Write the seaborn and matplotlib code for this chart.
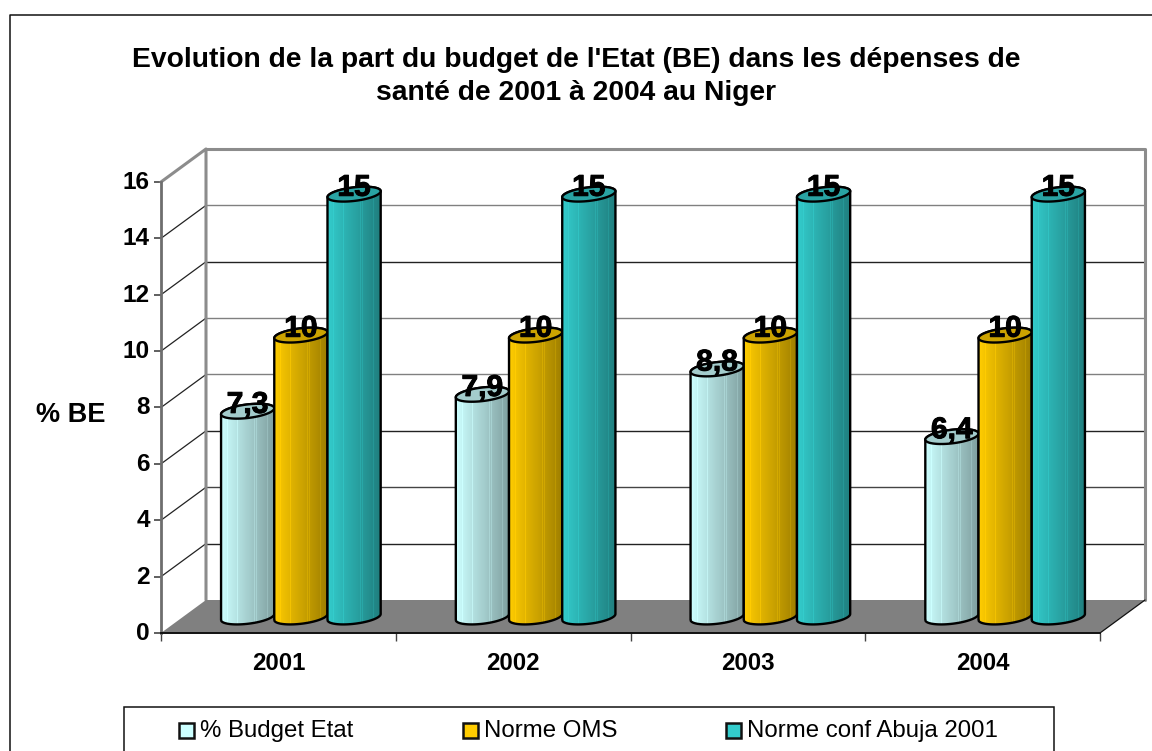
import numpy as np
import pandas as pd
import seaborn as sns
import matplotlib.pyplot as plt
import matplotlib.patheffects as pe
from matplotlib.colors import to_rgb
from matplotlib.lines import Line2D
from matplotlib.patches import PathPatch, Polygon, Rectangle
from matplotlib.path import Path
from matplotlib.transforms import ScaledTranslation

# values
years = ['2001', '2002', '2003', '2004']
series_names = ['% Budget Etat', 'Norme OMS', 'Norme conf Abuja 2001']
budget_etat = [7.3, 7.9, 8.8, 6.4]
norme_oms = [10, 10, 10, 10]
norme_abuja = [15, 15, 15, 15]
colors = ['#CCFFFF', '#FFCC00', '#33CCCC']

title = "Evolution de la part du budget de l'Etat (BE) dans les dépenses de\nsanté de 2001 à 2004 au Niger"

W, H = 1152, 751
# plot box in pixels (front plane) and the depth of the fake 3d
left, right, front_y, unit = 161, 1100, 633, 28.19

sns.set_theme(style='white')
plt.rcParams['font.family'] = ['Liberation Sans', 'DejaVu Sans']

df = pd.DataFrame({'annee': years, series_names[0]: budget_etat,
                   series_names[1]: norme_oms, series_names[2]: norme_abuja})
df = df.melt(id_vars='annee', var_name='serie', value_name='valeur')

fig = plt.figure(figsize=(W / 100, H / 100), dpi=100, facecolor='white')
box = [left / W, (H - front_y) / H, (right - left) / W, 16 * unit / H]
ax = fig.add_axes(box, facecolor='none', zorder=1)
# bars sit half way in the depth, the axes starts one unit under the baseline so the round bottoms fit
ax2 = fig.add_axes([(left + 22.5) / W, (H - 617 - unit) / H, box[2], 17 * unit / H], facecolor='none', zorder=2)

# walls and floor
ax.set_xlim(-0.5, 3.5)
ax.set_ylim(0, 16)
dx = 45 / ((right - left) / 4)
dy = 33 / unit
ax.add_patch(Polygon([(-0.5, 0), (3.5, 0), (3.5 + dx, dy), (-0.5 + dx, dy)], closed=True,
                     facecolor='#808080', edgecolor='none', clip_on=False, zorder=1))
ticks = list(range(0, 18, 2))
grid_colors = ['#222222', '#444444', '#222222', '#808080', '#808080', '#222222', '#808080']
for v, c in zip(ticks[1:-1], grid_colors):
    ax.plot([-0.5 + dx, 3.5 + dx], [v + dy, v + dy], color=c, lw=1, clip_on=False, zorder=0.5)
for v in ticks[1:-1]:
    ax.plot([-0.5, -0.5 + dx], [v, v + dy], color='#222222', lw=0.9, clip_on=False, zorder=0.5)
wall = '#8c8c8c'
ax.plot([-0.5, -0.5 + dx, -0.5 + dx], [16, 16 + dy, dy], color=wall, lw=2.2, clip_on=False, zorder=0.6)
ax.plot([-0.5 + dx, 3.5 + dx, 3.5 + dx], [16 + dy, 16 + dy, dy], color=wall, lw=2.2,
        clip_on=False, zorder=0.6)
ax.plot([3.5, 3.5 + dx], [0, dy], color='#111111', lw=0.9, clip_on=False, zorder=1.2)

ax.set_xticks(range(4))
ax.set_xticklabels(years, fontsize=17.3, fontweight='bold', color='black')
ax.set_xticks(np.arange(-0.5, 4, 1), minor=True)
ax.tick_params(axis='x', which='major', length=0, pad=14)
ax.tick_params(axis='x', which='minor', length=6, width=1, color='#444444', bottom=True)
ax.set_yticks(ticks)
ax.set_yticklabels(ticks, fontsize=17.6, fontweight='bold', color='black')
ax.tick_params(axis='y', length=5, width=1.2, color='#444444', left=True, pad=3)
lift = ScaledTranslation(0, 2 / 100, fig.dpi_scale_trans)
for lab in ax.get_yticklabels():
    lab.set_transform(lab.get_transform() + lift)
for s in ['top', 'right']:
    ax.spines[s].set_visible(False)
ax.spines['left'].set_color('#6e6e6e')
ax.spines['left'].set_linewidth(2)
ax.spines['bottom'].set_color('#111111')
ax.spines['bottom'].set_linewidth(1.4)
ax.set_xlabel('')
ax.set_ylabel('% BE', rotation=0, fontsize=19.5, fontweight='bold', color='black', ha='center', va='center')
ax.yaxis.set_label_coords(-0.0958, 0.484)

# bars
sns.barplot(data=df, x='annee', y='valeur', hue='serie', hue_order=series_names, palette=colors,
            width=0.68, gap=0, saturation=1, errorbar=None, legend=False, ax=ax2)
ax2.set_axis_off()

# turn each bar into a cylinder, in data coords of the bar
ell_b = 6.8 / unit
ell_tilt = 3.0 / unit
streaks = [0.05, 0.12, 0.31, 0.49, 0.53, 0.62, 0.66, 0.74, 0.78, 0.86, 0.93]
shade = np.linspace(1, 0.62, 106)
for s in streaks:
    shade[int(s * 106)] += 0.07
shade = shade.clip(0, 1)

z = 3
for i in range(len(years)):
    for h, col in enumerate(colors):
        bar = ax2.containers[h][i]
        x0, w, top = bar.get_x(), bar.get_width(), bar.get_height()
        cx, a = x0 + w / 2, w / 2
        t = np.linspace(np.pi, 2 * np.pi, 40)
        low = np.c_[cx + a * np.cos(t), ell_b * np.sin(t) + ell_tilt * np.cos(t)]
        t = np.linspace(0, np.pi, 40)
        up = np.c_[cx + a * np.cos(t), top + ell_b * np.sin(t) + ell_tilt * np.cos(t)]
        body = Path(np.r_[low, up, low[:1]], closed=False)
        outline = PathPatch(body, facecolor='none', edgecolor='black', lw=1.7, zorder=z + 1,
                            joinstyle='round', clip_on=False)
        ax2.add_patch(outline)
        bar.set_linewidth(0)
        bar.set_zorder(z - 0.5)
        bar.set_clip_path(outline)
        rgb = np.array(to_rgb(col))
        img = ax2.imshow((shade[:, None] * rgb)[None, :, :], extent=[x0, x0 + w, -1, top + 1], aspect='auto',
                         zorder=z, interpolation='nearest')
        img.set_clip_path(outline)
        t = np.linspace(0, 2 * np.pi, 80)
        cap = np.c_[cx + a * np.cos(t), top + ell_b * np.sin(t) + ell_tilt * np.cos(t)]
        ax2.add_patch(Polygon(cap, closed=True, facecolor=tuple(rgb * 0.8), edgecolor='black', lw=1.7,
                              zorder=z + 2, clip_on=False))
        z += 3
ax2.set_xlim(-0.5, 3.5)
ax2.set_ylim(-1, 16)

# value labels with french decimal comma
for h, container in enumerate(ax2.containers):
    labels = [f'{b.get_height():g}'.replace('.', ',') for b in container]
    for t in ax2.bar_label(container, labels=labels, fontsize=21.6, fontweight='bold', color='black', padding=-5.5):
        t.set_zorder(100)
        t.set_path_effects([pe.withStroke(linewidth=0.7, foreground='black')])

fig.text(576 / W, 1 - 76.5 / H, title, ha='center', va='center', fontsize=20.3, fontweight='bold',
         color='black', linespacing=1.33)

# outer frame, cut by the image on the right and at the bottom
fig.add_artist(Line2D([10 / W, 10 / W, 1], [0, 1 - 14.5 / H, 1 - 14.5 / H], color='#111111', lw=1.1))

# legend box
fig.add_artist(Rectangle((124 / W, -10 / H), 930 / W, (H + 10 - 707) / H, facecolor='white',
                         edgecolor='#111111', lw=1.1, transform=fig.transFigure))
legend_x = [179, 463, 726]
for name, col, lx in zip(series_names, colors, legend_x):
    fig.add_artist(Rectangle((lx / W, 1 - 738 / H), 15 / W, 15 / H, facecolor=col, edgecolor='#111111',
                             lw=1.8, transform=fig.transFigure))
    fig.text((lx + 21) / W, 1 - 731 / H, name, ha='left', va='center', fontsize=17.3, color='black')

fig.savefig('out.png', dpi=100)
